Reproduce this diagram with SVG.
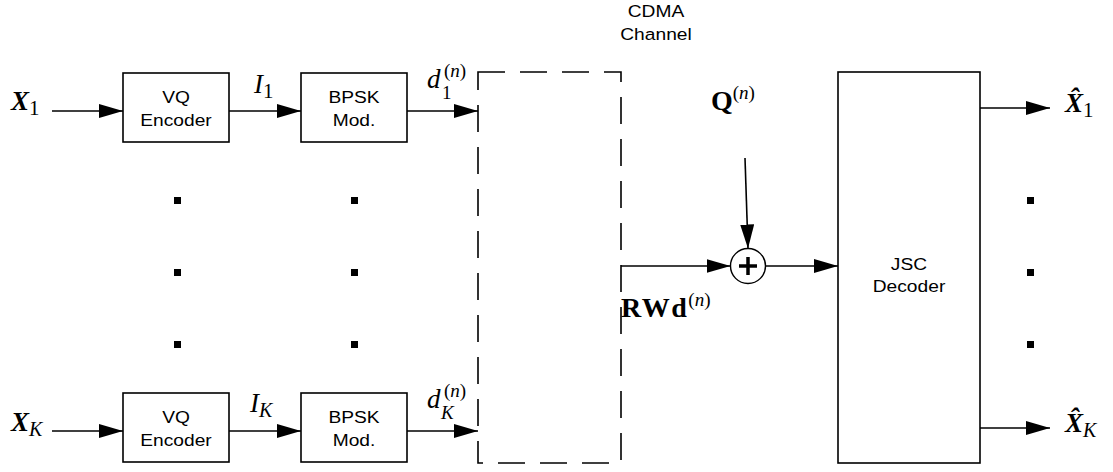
<svg xmlns="http://www.w3.org/2000/svg" width="1113" height="472" viewBox="0 0 1113 472">
<style>
.box{fill:#fff;stroke:#000;stroke-width:1.6}
.lbl{font-family:"Liberation Sans",Arial,sans-serif;font-size:17px;fill:#000;text-anchor:middle}
.m{font-family:"Liberation Serif","Times New Roman",serif;fill:#000}
.bi{font-weight:bold;font-style:italic}
.it{font-style:italic}
.b{font-weight:bold}
.conn line{stroke:#000;stroke-width:1.6;marker-end:url(#ah)}
.dot{fill:#000}
</style>
<defs>
<marker id="ah" markerUnits="userSpaceOnUse" markerWidth="26" markerHeight="15" refX="24" refY="7" orient="auto">
<path d="M0,0 L24,7 L0,14 Z" fill="#000"/>
</marker>
</defs>
<rect width="1113" height="472" fill="#fff"/>

<g id="vq1"><rect class="box" x="123" y="73" width="106" height="69"/><g transform="translate(176,0) scale(1.13,1)"><text class="lbl" x="0" y="103">VQ</text><text class="lbl" x="0" y="126">Encoder</text></g></g>
<g id="bpsk1"><rect class="box" x="301" y="73" width="106" height="69"/><g transform="translate(354,0) scale(1.13,1)"><text class="lbl" x="0" y="103">BPSK</text><text class="lbl" x="0" y="126">Mod.</text></g></g>
<g id="vqK"><rect class="box" x="123" y="393" width="106" height="69"/><g transform="translate(176,0) scale(1.13,1)"><text class="lbl" x="0" y="423">VQ</text><text class="lbl" x="0" y="446">Encoder</text></g></g>
<g id="bpskK"><rect class="box" x="301" y="393" width="106" height="69"/><g transform="translate(354,0) scale(1.13,1)"><text class="lbl" x="0" y="423">BPSK</text><text class="lbl" x="0" y="446">Mod.</text></g></g>

<g id="cdma">
<rect x="478" y="72" width="143" height="391" fill="none" stroke="#000" stroke-width="1.6" stroke-dasharray="27 15"/>
<g transform="translate(656,0) scale(1.13,1)"><text class="lbl" x="0" y="17">CDMA</text><text class="lbl" x="0" y="40">Channel</text></g>
</g>

<g id="jsc"><rect class="box" x="838" y="72" width="142" height="391"/><g transform="translate(909,0) scale(1.13,1)"><text class="lbl" x="0" y="270">JSC</text><text class="lbl" x="0" y="292">Decoder</text></g></g>

<g id="sum"><circle cx="748" cy="266" r="17.5" fill="#fff" stroke="#000" stroke-width="1.4"/>
<line x1="739" y1="266" x2="757" y2="266" stroke="#000" stroke-width="3.5"/><line x1="748" y1="257" x2="748" y2="275" stroke="#000" stroke-width="3.5"/></g>

<g id="dots">
<rect class="dot" x="174" y="197" width="7" height="7"/><rect class="dot" x="174" y="269" width="7" height="7"/><rect class="dot" x="174" y="341" width="7" height="7"/>
<rect class="dot" x="351" y="197" width="7" height="7"/><rect class="dot" x="351" y="269" width="7" height="7"/><rect class="dot" x="351" y="341" width="7" height="7"/>
<rect class="dot" x="1027" y="197" width="7" height="7"/><rect class="dot" x="1027" y="269" width="7" height="7"/><rect class="dot" x="1027" y="341" width="7" height="7"/>
</g>

<g class="conn" id="connectors">
<line x1="52" y1="111" x2="123" y2="111"/>
<line x1="229" y1="111" x2="301" y2="111"/>
<line x1="407" y1="111" x2="478" y2="111"/>
<line x1="52" y1="431" x2="123" y2="431"/>
<line x1="229" y1="431" x2="301" y2="431"/>
<line x1="407" y1="431" x2="478" y2="431"/>
<line x1="621" y1="266" x2="730.5" y2="266"/>
<line x1="745" y1="158" x2="748" y2="248.5"/>
<line x1="765.5" y1="266" x2="838" y2="266"/>
<line x1="980" y1="108" x2="1050" y2="108"/>
<line x1="980" y1="428" x2="1050" y2="428"/>
</g>

<g id="labels">
<text class="m" x="11" y="110" font-size="27"><tspan class="bi">X</tspan><tspan font-size="21" dy="5">1</tspan></text>
<text class="m" x="11" y="431" font-size="27"><tspan class="bi">X</tspan><tspan class="it" font-size="20" dy="5">K</tspan></text>
<text class="m" x="254" y="93" font-size="27"><tspan class="it">I</tspan><tspan font-size="21" dy="5">1</tspan></text>
<text class="m" x="250" y="412" font-size="27"><tspan class="it">I</tspan><tspan class="it" font-size="20" dy="5">K</tspan></text>
<text class="m" x="427" y="88" font-size="27"><tspan class="it">d</tspan></text>
<text class="m" x="444" y="77" font-size="19">(<tspan class="it">n</tspan>)</text>
<text class="m" x="442" y="99" font-size="19">1</text>
<text class="m" x="427" y="408" font-size="27"><tspan class="it">d</tspan></text>
<text class="m" x="444" y="397" font-size="19">(<tspan class="it">n</tspan>)</text>
<text class="m" x="441" y="419" font-size="19" font-style="italic">K</text>
<text class="m" x="711" y="110" font-size="28"><tspan class="b">Q</tspan><tspan font-size="19" dy="-11">(</tspan><tspan class="it" font-size="19">n</tspan><tspan font-size="19">)</tspan></text>
<text class="m" x="621" y="317" font-size="28" letter-spacing="1.5"><tspan class="b">RWd</tspan><tspan font-size="19" dy="-11" letter-spacing="0">(</tspan><tspan class="it" font-size="19" letter-spacing="0">n</tspan><tspan font-size="19" letter-spacing="0">)</tspan></text>
<text class="m" x="1065" y="112" font-size="27"><tspan class="bi">X&#x302;</tspan><tspan font-size="21" dy="5">1</tspan></text>
<text class="m" x="1065" y="432" font-size="27"><tspan class="bi">X&#x302;</tspan><tspan class="it" font-size="20" dy="5">K</tspan></text>
</g>
</svg>
